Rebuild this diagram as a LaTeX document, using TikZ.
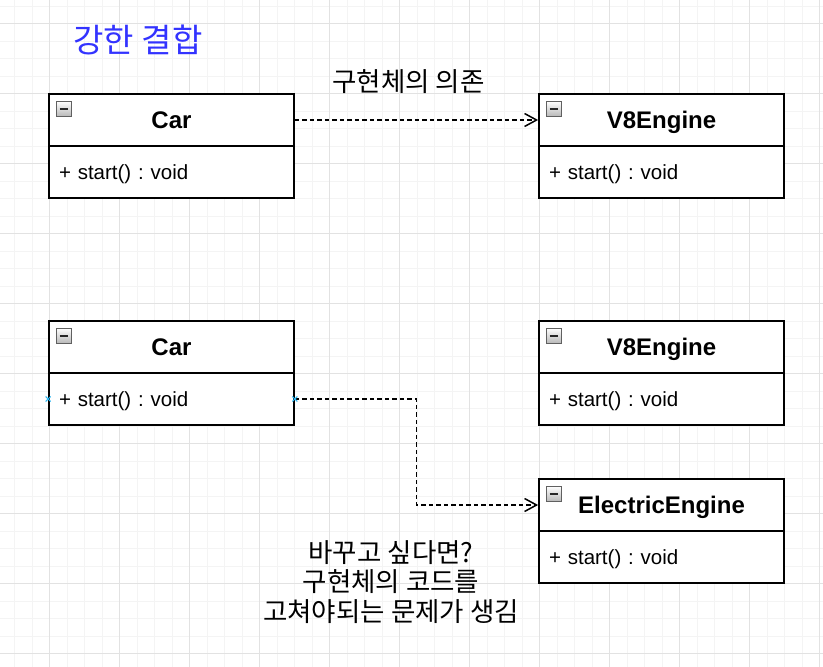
\documentclass[tikz,border=0pt]{standalone}
\usepackage{fontspec}
\setmainfont{Liberation Sans}
\newfontfamily\kr{Noto Sans CJK KR}
\usetikzlibrary{arrows.meta}
\frenchspacing
\definecolor{gridminor}{RGB}{244,244,244}
\definecolor{gridmajor}{RGB}{226,226,226}
\definecolor{titleblue}{RGB}{51,51,255}
\definecolor{markblue}{RGB}{41,182,242}
\tikzset{
  hdr/.style={draw, fill=white, line width=1.75, minimum width=245, minimum height=52, inner sep=0,
    text height=17.2pt, text depth=0pt,
    font=\bfseries\fontsize{24}{28}\selectfont},
  bodybox/.style={draw, fill=white, line width=1.75, text width=225, inner xsep=10, inner ysep=0,
    text height=14.3pt, text depth=0pt,
    minimum height=52, align=left, font=\fontsize{20.5}{24}\selectfont},
  dep/.style={line width=1.6, dash pattern=on 4.5pt off 3pt,
    -{Straight Barb[length=12pt,width=13pt,line width=1.5pt]}},
  krlabel/.style={font=\kr\fontsize{26.5}{29.5}\selectfont, align=center, inner sep=0},
  collapse/.pic={
    \shade[top color=white, bottom color=gray!55] (0,0) rectangle (15,15);
    \draw[gray!75!black, line width=0.9] (0,0) rectangle (15,15);
    \draw[black!85, line width=2] (3.5,7.5) -- (11.5,7.5);
  },
  xmark/.pic={
    \draw[markblue, line width=1] (-2.5,-2.5) -- (2.5,2.5) (-2.5,2.5) -- (2.5,-2.5);
  }
}
\begin{document}
\begin{tikzpicture}[x=1pt,y=-1pt]
\useasboundingbox (0,0) rectangle (823,667);
\fill[white] (0,0) rectangle (823,667);
% grid
\foreach \i in {0,...,47} \draw[gridminor, line width=1] ({-3+17.5*\i},0) -- ++(0,667);
\foreach \j in {0,...,38} \draw[gridminor, line width=1] (0,{6+17.5*\j}) -- ++(823,0);
\foreach \i in {0,...,12} \draw[gridmajor, line width=1] ({-20.5+70*\i},0) -- ++(0,667);
\foreach \j in {0,...,9} \draw[gridmajor, line width=1] (0,{23.5+70*\j}) -- ++(823,0);

% title
\node[font=\kr\fontsize{33}{38}\selectfont, text=titleblue, inner sep=0] (title) at (138,40) {강한 결합};

% top row
\node[hdr] (car1h) at (171.5,120) {Car};
\node[bodybox] (car1b) at (171.5,172) {+ start() : void};
\node[hdr] (v81h) at (661.5,120) {V8Engine};
\node[bodybox] (v81b) at (661.5,172) {+ start() : void};

% bottom row
\node[hdr] (car2h) at (171.5,347) {Car};
\node[bodybox] (car2b) at (171.5,399) {+ start() : void};
\node[hdr] (v82h) at (661.5,347) {V8Engine};
\node[bodybox] (v82b) at (661.5,399) {+ start() : void};
\node[hdr] (elh) at (661.5,505) {ElectricEngine};
\node[bodybox] (elb) at (661.5,557) {+ start() : void};

% collapse icons
\foreach \n in {car1h,v81h,car2h,v82h,elh}
  \pic at ([shift={(8,8)}]\n.north west) {collapse};

% connectors
\draw[dep] (car1h.east) -- (v81h.west);
\node[krlabel] (lbl1) at (408.5,82) {구현체의 의존};

\coordinate (bend) at (416.5,399);
\draw[dep] (car2b.east) -- (bend) |- (elh.west);

\pic at (car2b.west) {xmark};
\pic at (car2b.east) {xmark};

\node[krlabel] (lbl2) at (391,582) {바꾸고 싶다면?\\구현체의 코드를\\고쳐야되는 문제가 생김};
\end{tikzpicture}
\end{document}
